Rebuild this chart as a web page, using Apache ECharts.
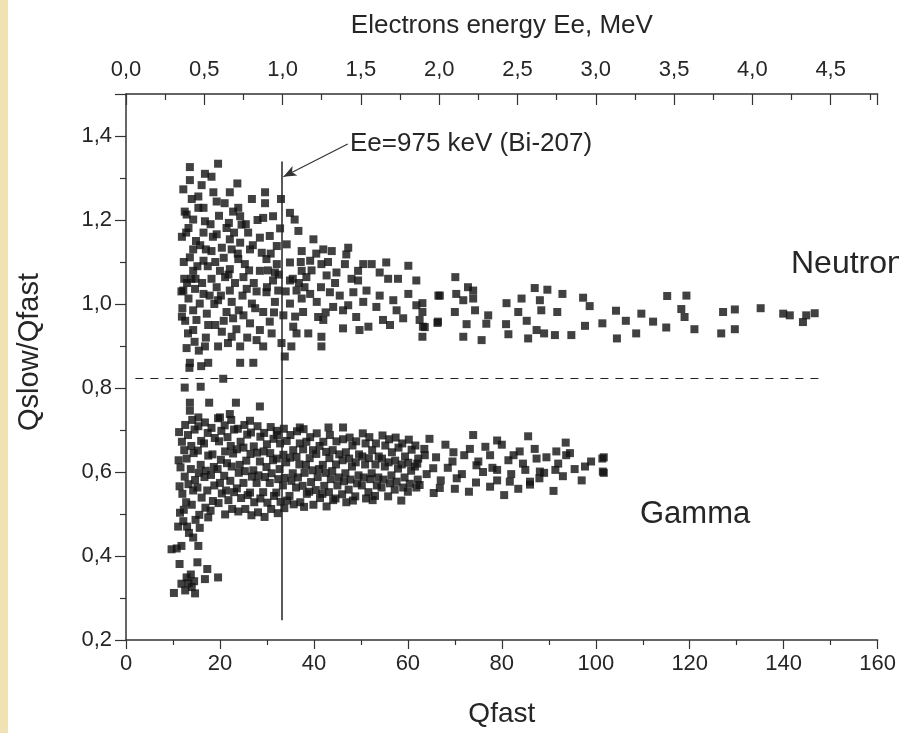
<!DOCTYPE html>
<html>
<head>
<meta charset="utf-8">
<script src="https://cdn.jsdelivr.net/npm/echarts@6/dist/echarts.min.js"></script>
<style>
html,body{margin:0;padding:0;background:#fff;}
#chart{width:899px;height:733px;}
</style>
</head>
<body>
<div id="chart"></div>
<script>
// Axis settings (tick labels)
const qfastTicks = [0, 20, 40, 60, 80, 100, 120, 140, 160];
const ratioTicks = [0.2, 0.4, 0.6, 0.8, 1.0, 1.2, 1.4];
const energyTicks = [0.0, 0.5, 1.0, 1.5, 2.0, 2.5, 3.0, 3.5, 4.0, 4.5];

// Neutron events [Qfast, Qslow/Qfast]
const neutronPoints = [
[19.6,1.334],[13.6,1.326],[18.2,1.303],[13.6,1.295],[16.1,1.283],[23.7,1.287],[12.2,1.273],[18.6,1.266],[22.1,1.266],[29.6,1.266],
[15.4,1.256],[29.6,1.240],[19.3,1.244],[15.4,1.229],[23.9,1.229],[16.5,1.229],[24.3,1.209],[12.9,1.213],[14.3,1.201],[16.8,1.197],
[21.9,1.193],[29.2,1.205],[31.3,1.209],[34.9,1.217],[35.9,1.201],[24.6,1.189],[21.4,1.181],[13.3,1.181],[16.5,1.170],[19.3,1.166],
[36.7,1.174],[28.5,1.158],[30.6,1.162],[22.1,1.154],[24.3,1.146],[39.9,1.154],[32.1,1.138],[34.2,1.142],[14.3,1.130],[18.2,1.126],
[20.4,1.134],[22.5,1.130],[26.4,1.130],[28.9,1.122],[37.4,1.126],[42.0,1.130],[43.8,1.126],[47.3,1.134],[46.9,1.118],[13.6,1.111],
[16.5,1.103],[23.9,1.107],[25.3,1.095],[29.9,1.107],[32.1,1.095],[34.9,1.099],[39.2,1.103],[41.6,1.095],[46.6,1.095],[50.5,1.095],
[52.3,1.095],[55.4,1.099],[60.1,1.091],[14.3,1.079],[20.0,1.079],[22.1,1.083],[28.5,1.079],[31.7,1.075],[37.4,1.079],[44.8,1.075],
[49.4,1.079],[54.0,1.075],[18.2,1.060],[21.1,1.064],[25.0,1.064],[31.3,1.056],[34.9,1.056],[38.4,1.064],[42.7,1.068],[49.4,1.056],
[55.8,1.060],[57.9,1.060],[61.8,1.056],[12.2,1.032],[14.7,1.036],[16.5,1.024],[19.3,1.040],[22.1,1.032],[25.7,1.036],[29.9,1.028],
[32.4,1.032],[36.3,1.032],[39.2,1.024],[43.4,1.028],[48.4,1.028],[51.2,1.032],[54.0,1.020],[56.9,1.009],[60.1,1.024],[66.8,1.020],
[13.3,1.013],[15.7,1.001],[19.6,1.009],[22.5,1.005],[26.8,1.001],[31.7,1.005],[34.9,1.001],[37.4,1.013],[40.6,1.005],[44.1,0.993],
[47.3,0.997],[50.5,1.005],[53.3,0.993],[57.6,0.985],[61.8,0.997],[14.3,0.985],[17.2,0.977],[21.4,0.981],[25.0,0.973],[29.2,0.981],
[37.7,0.981],[40.9,0.969],[46.2,0.985],[49.0,0.969],[54.7,0.962],[59.0,0.966],[62.5,0.962],[15.0,0.962],[22.8,0.966],[26.4,0.954],
[30.6,0.958],[33.5,0.973],[35.6,0.946],[42.0,0.962],[51.6,0.946],[56.2,0.950],[63.2,0.946],[66.4,0.958],[14.3,0.938],[17.5,0.950],
[20.4,0.934],[22.5,0.922],[28.5,0.938],[36.3,0.930],[38.8,0.930],[41.6,0.922],[46.2,0.942],[49.7,0.938],[12.9,0.895],[16.8,0.899],
[19.6,0.899],[21.7,0.907],[24.3,0.899],[27.8,0.914],[29.2,0.899],[33.1,0.907],[35.2,0.899],[41.6,0.899],[13.6,0.860],[17.5,0.860],
[24.3,0.860],[27.1,0.860],[33.8,0.875],[13.5,0.848],[15.5,0.889],[16.0,0.852],
[11.8,1.030],[12.0,0.990],[12.6,0.960],[13.0,1.050],[12.3,1.100],[11.9,1.160],[12.5,1.220],[13.2,0.930],[14.8,1.060],[15.8,1.140],
[17.4,1.090],[18.8,1.000],[20.8,1.110],[23.2,1.050],[26.0,1.170],[27.2,1.050],[30.2,1.080],[27.5,0.990],[32.8,1.180],[18.0,1.190],
[17.0,0.920],[19.0,0.950],[23.5,0.940],[25.8,0.920],
[12.8,1.170],[13.9,1.060],[14.9,1.150],[15.2,1.090],[16.2,1.050],[17.8,1.020],[18.5,1.160],[19.8,1.210],[20.2,1.020],[21.0,1.240],
[21.8,1.070],[23.0,1.170],[23.8,1.120],[24.8,1.020],[25.5,1.190],[26.2,1.080],[27.0,1.140],[27.8,1.030],[28.0,1.200],[30.0,1.040],
[30.8,1.120],[31.5,0.980],[32.5,1.070],[33.0,1.250],[34.0,1.030],[35.5,1.060],[36.0,0.970],[37.2,1.100],[38.0,1.040],[39.5,1.080],
[40.5,1.120],[41.5,1.040],[43.0,1.100],[44.5,1.050],[45.5,1.020],[48.0,1.060],[14.0,1.250],[16.8,1.310],[22.8,1.220],[26.8,1.250],
[19.0,1.100],[17.0,1.130],[12.4,1.060],[11.9,0.970],[14.6,0.910],[20.8,0.960],[24.0,0.985],[31.0,0.930],[36.8,1.050],[42.5,0.980],
[70.1,1.064],[72.8,1.040],[73.9,1.032],[66.5,1.020],[70.3,1.024],[71.8,1.009],[73.9,1.013],[70.0,0.981],[74.3,0.985],[63.1,1.002],
[63.1,0.981],[66.3,0.955],[72.5,0.952],[77.1,0.973],[76.7,0.953],[63.6,0.945],[63.1,0.922],[71.8,0.922],[75.7,0.914],[81.0,1.002],
[84.2,1.013],[83.5,0.981],[85.3,0.960],[80.9,0.952],[81.4,0.928],[87.0,1.038],[89.7,1.034],[92.9,1.024],[88.1,1.009],[88.4,0.985],
[87.4,0.938],[89.0,0.930],[91.3,0.926],[85.6,0.918],[91.8,0.981],[94.8,0.926],[97.3,1.015],[98.7,0.995],[97.7,0.948],[101.4,0.954],
[104.3,0.984],[106.4,0.960],[104.5,0.918],[108.6,0.930],[109.7,0.977],[112.2,0.958],[115.0,0.944],[115.2,1.019],[119.3,1.020],[118.2,0.988],
[118.9,0.969],[121.0,0.940],[127.1,0.981],[129.6,0.987],[126.7,0.930],[129.6,0.940],[135.1,0.990],[139.9,0.977],[141.3,0.973],[144.1,0.957],
[144.8,0.973],[146.6,0.978]
];

// Gamma events [Qfast, Qslow/Qfast]
const gammaPoints = [
[20.7,0.822],[12.5,0.801],[15.9,0.803],[17.7,0.765],[23.4,0.765],[28.5,0.756],[13.6,0.765],[13.6,0.746],[15.4,0.730],[20.0,0.730],
[22.1,0.738],[26.4,0.722],[37.0,0.706],[43.1,0.706],[46.2,0.706],[32.1,0.698],
[12.2,0.483],[15.7,0.467],[14.3,0.444],[11.8,0.424],[9.7,0.416],[15.4,0.424],[11.4,0.381],[15.2,0.385],[17.3,0.369],[19.6,0.349],
[16.8,0.345],[12.9,0.349],[11.8,0.334],[14.0,0.326],[10.2,0.312],[14.7,0.311],[12.6,0.318],[13.3,0.335],[13.8,0.356],[14.5,0.340],
[10.8,0.418],[13.0,0.470],
[11.3,0.695],[11.9,0.672],[11.2,0.628],[11.6,0.611],[11.4,0.566],[12.0,0.548],[11.5,0.503],[11.1,0.470],
[12.6,0.712],[13.2,0.688],[12.4,0.652],[12.9,0.632],[12.5,0.589],[13.3,0.571],[12.8,0.528],[12.3,0.510],[13.4,0.455],
[14.1,0.724],[14.6,0.701],[13.9,0.662],[14.4,0.645],[13.8,0.607],[14.7,0.581],[14.3,0.556],[14.0,0.522],[14.8,0.486],
[15.4,0.709],[16.0,0.674],[15.3,0.651],[15.9,0.617],[15.5,0.598],[15.2,0.563],[16.1,0.539],[15.6,0.498],
[16.8,0.718],[17.4,0.693],[16.6,0.668],[17.5,0.639],[17.0,0.603],[16.7,0.588],[17.3,0.556],[16.9,0.515],[17.5,0.492],
[18.2,0.705],[18.9,0.681],[18.4,0.642],[18.7,0.612],[18.1,0.593],[18.8,0.568],[18.5,0.531],[18.0,0.508],
[19.6,0.728],[20.3,0.698],[19.8,0.673],[20.2,0.629],[19.5,0.607],[20.0,0.574],[20.4,0.549],[19.7,0.526],
[21.0,0.711],[21.6,0.683],[21.1,0.649],[21.5,0.621],[20.9,0.591],[21.3,0.556],[21.8,0.533],[21.1,0.499],
[22.4,0.724],[23.0,0.701],[22.3,0.662],[22.8,0.644],[22.5,0.613],[22.2,0.579],[23.0,0.552],[22.6,0.512],
[23.8,0.703],[24.4,0.672],[23.6,0.654],[24.2,0.617],[24.0,0.598],[23.6,0.561],[24.5,0.538],[23.9,0.506],
[25.2,0.712],[25.8,0.689],[25.0,0.658],[25.6,0.627],[25.3,0.602],[25.0,0.574],[25.9,0.545],[25.4,0.512],
[26.6,0.694],[27.2,0.661],[26.5,0.643],[27.1,0.604],[26.8,0.589],[26.4,0.551],[27.3,0.528],[26.7,0.497],
[28.0,0.709],[28.6,0.684],[27.9,0.646],[28.5,0.625],[28.2,0.592],[27.8,0.574],[28.6,0.537],[28.1,0.504],
[29.4,0.693],[30.0,0.666],[29.3,0.649],[29.9,0.612],[29.6,0.588],[29.2,0.552],[30.1,0.527],[29.5,0.493],
[30.8,0.707],[31.4,0.679],[30.7,0.645],[31.3,0.628],[31.0,0.597],[30.6,0.574],[31.5,0.543],[30.9,0.512],
[32.2,0.688],[32.8,0.668],[32.1,0.632],[32.7,0.607],[32.4,0.583],[32.0,0.551],[32.9,0.529],[32.3,0.502],
[33.6,0.703],[34.2,0.674],[33.5,0.641],[34.1,0.623],[33.8,0.586],[33.4,0.568],[34.3,0.532],[33.7,0.514],
[35.0,0.688],[35.6,0.652],[34.9,0.634],[35.5,0.597],[35.2,0.579],[34.8,0.543],[35.7,0.523],
[36.4,0.697],[37.0,0.668],[36.3,0.636],[36.9,0.618],[36.6,0.587],[36.2,0.563],[37.1,0.528],
[37.8,0.702],[38.4,0.672],[37.7,0.654],[38.3,0.617],[38.0,0.598],[37.6,0.567],[38.5,0.548],[37.9,0.517],
[39.2,0.683],[39.8,0.652],[39.1,0.633],[39.7,0.604],[39.4,0.576],[39.0,0.553],[39.9,0.522],
[40.6,0.692],[41.2,0.662],[40.5,0.643],[41.1,0.607],[40.8,0.588],[40.4,0.557],[41.3,0.538],
[42.0,0.672],[42.6,0.648],[41.9,0.617],[42.5,0.598],[42.2,0.567],[41.8,0.548],[42.7,0.518],
[43.4,0.688],[44.0,0.652],[43.3,0.633],[43.9,0.602],[43.6,0.583],[43.2,0.552],[44.1,0.533],
[44.8,0.673],[45.4,0.642],[44.7,0.618],[45.3,0.587],[45.0,0.568],[44.6,0.537],
[46.2,0.678],[46.8,0.647],[46.1,0.628],[46.7,0.597],[46.4,0.578],[46.0,0.547],[46.9,0.528],
[47.6,0.682],[48.2,0.663],[47.5,0.632],[48.1,0.613],[47.8,0.582],[47.4,0.558],[48.3,0.532],
[49.0,0.673],[49.6,0.642],[48.9,0.623],[49.5,0.592],[49.2,0.573],[48.8,0.542],
[50.4,0.692],[51.0,0.668],[50.3,0.637],[50.9,0.618],[50.6,0.587],[50.2,0.568],[51.1,0.537],
[51.8,0.683],[52.4,0.652],[51.7,0.633],[52.3,0.597],[52.0,0.583],[51.6,0.552],[52.5,0.533],
[53.2,0.668],[53.8,0.637],[53.1,0.618],[53.7,0.587],[53.4,0.568],[53.0,0.543],
[54.6,0.687],[55.2,0.663],[54.5,0.632],[55.1,0.613],[54.8,0.582],[54.4,0.563],
[56.0,0.678],[56.6,0.647],[55.9,0.623],[56.5,0.592],[56.2,0.573],[55.8,0.542],
[57.4,0.682],[58.0,0.658],[57.3,0.627],[57.9,0.608],[57.6,0.577],[57.2,0.558],
[58.8,0.668],[59.4,0.637],[58.7,0.618],[59.3,0.587],[59.0,0.563],[58.6,0.532],
[60.2,0.677],[60.8,0.653],[60.1,0.622],[60.7,0.603],[60.4,0.572],[60.0,0.553],
[61.6,0.663],[62.2,0.632],[61.5,0.613],[62.1,0.582],[61.8,0.563],
[64.6,0.679],[73.9,0.688],[79.0,0.675],[85.6,0.685],[93.6,0.670],[101.4,0.632],[101.5,0.601],[97.7,0.613],[91.4,0.605],[91.6,0.649],
[93.7,0.640],[83.8,0.649],[87.4,0.632],[88.1,0.601],[81.4,0.628],[77.5,0.640],[79.0,0.605],[73.2,0.655],[69.7,0.647],[74.6,0.616],
[70.4,0.585],[81.7,0.577],[86.0,0.577],[63.6,0.640],[65.4,0.609],[66.8,0.562],
[62.5,0.569],[64.0,0.595],[65.5,0.550],[67.0,0.580],[68.5,0.610],[70.0,0.560],[71.5,0.595],[73.0,0.553],[74.5,0.575],[76.0,0.600],
[77.5,0.565],[79.0,0.580],[80.5,0.545],[82.0,0.595],[83.5,0.560],[85.0,0.605],[86.0,0.570],[88.0,0.585],[89.0,0.598],[91.0,0.555],
[93.0,0.590],[95.5,0.607],[97.0,0.580],[99.0,0.625],[101.7,0.635],[101.7,0.598],[62.0,0.620],[63.5,0.655],[66.0,0.635],[68.0,0.665],
[69.5,0.625],[72.0,0.640],[75.0,0.625],[76.5,0.660],[78.0,0.610],[80.0,0.665],[82.5,0.640],[84.5,0.620],[87.0,0.655],[89.5,0.635],
[92.0,0.620],[94.5,0.645]
];

// Reference lines (data coordinates)
const bi207Q = 33.2;          // Ee = 975 keV
const bi207Span = [0.247, 1.339];
const separatorV = 0.824;
const separatorSpan = [2, 148.7];
const arrowFrom = [47.2, 1.381];
const arrowTo = [33.5, 1.303];

const FONT = "'Liberation Sans', Arial, sans-serif";
const TXT = '#262626';
const AX = '#333333';
const comma1 = v => v.toFixed(1).replace('.', ',');

const chart = echarts.init(document.getElementById('chart'), null, {renderer: 'canvas'});

chart.setOption({
  animation: false,
  backgroundColor: '#ffffff',
  grid: {left: 126, right: 21, top: 94, bottom: 86, containLabel: false},
  xAxis: [
    {
      type: 'value', position: 'bottom', min: qfastTicks[0], max: qfastTicks[qfastTicks.length - 1], interval: 20,
      name: 'Qfast', nameLocation: 'middle', nameGap: 60,
      nameTextStyle: {fontFamily: FONT, fontSize: 28, color: TXT},
      axisLine: {onZero: false, lineStyle: {color: AX, width: 1.5}},
      axisTick: {show: true, inside: false, length: 9, lineStyle: {color: AX, width: 1.2}},
      minorTick: {show: true, splitNumber: 2, length: 5, lineStyle: {color: AX, width: 1.2}},
      axisLabel: {fontFamily: FONT, fontSize: 22, color: TXT, margin: 13},
      splitLine: {show: false}
    },
    {
      type: 'value', position: 'top', min: energyTicks[0], max: 4.8, interval: 0.5,
      name: 'Electrons energy Ee, MeV', nameLocation: 'middle', nameGap: 55,
      nameTextStyle: {fontFamily: FONT, fontSize: 26, color: TXT},
      axisLine: {onZero: false, lineStyle: {color: AX, width: 1.5}},
      axisTick: {show: true, inside: true, length: 11, lineStyle: {color: AX, width: 1.2}},
      minorTick: {show: true, splitNumber: 2, length: 6, lineStyle: {color: AX, width: 1.2}},
      axisLabel: {fontFamily: FONT, fontSize: 22, color: TXT, margin: 13, showMaxLabel: false,
                  formatter: v => comma1(v)},
      splitLine: {show: false}
    }
  ],
  yAxis: [
    {
      type: 'value', position: 'left', min: ratioTicks[0], max: 1.5, interval: 0.2,
      name: 'Qslow/Qfast', nameLocation: 'middle', nameGap: 82, nameRotate: 90,
      nameTextStyle: {fontFamily: FONT, fontSize: 29, color: TXT, padding: [0, 0, 0, 30]},
      axisLine: {onZero: false, lineStyle: {color: AX, width: 1.5}},
      axisTick: {show: true, inside: false, length: 11, lineStyle: {color: AX, width: 1.2}},
      minorTick: {show: true, splitNumber: 2, length: 6, lineStyle: {color: AX, width: 1.2}},
      axisLabel: {fontFamily: FONT, fontSize: 22, color: TXT, margin: 14, showMaxLabel: false,
                  formatter: v => comma1(v)},
      splitLine: {show: false}
    }
  ],
  series: [
    {
      name: 'Neutron', type: 'scatter', xAxisIndex: 0, yAxisIndex: 0,
      symbol: 'rect', symbolSize: 8, itemStyle: {color: '#121212'},
      data: neutronPoints, silent: true
    },
    {
      name: 'Gamma', type: 'scatter', xAxisIndex: 0, yAxisIndex: 0,
      symbol: 'rect', symbolSize: 8, itemStyle: {color: '#121212'},
      data: gammaPoints, silent: true
    },
    {
      name: 'lines', type: 'scatter', xAxisIndex: 0, yAxisIndex: 0, data: [], silent: true,
      markLine: {
        silent: true, animation: false, symbol: ['none', 'none'], label: {show: false},
        data: [
          [{coord: [bi207Q, bi207Span[0]], lineStyle: {color: '#222', width: 1.5, type: 'solid'}},
           {coord: [bi207Q, bi207Span[1]]}],
          [{coord: [separatorSpan[0], separatorV], lineStyle: {color: '#222', width: 1.2, type: [8, 7]}},
           {coord: [separatorSpan[1], separatorV]}],
          [{coord: arrowFrom, symbol: 'none', lineStyle: {color: '#333', width: 1.2, type: 'solid'}},
           {coord: arrowTo, symbol: 'arrow', symbolSize: [8, 13]}]
        ]
      }
    }
  ],
  graphic: [
    {type: 'rect', left: 0, top: 0, shape: {width: 8, height: 733}, style: {fill: '#efe3b3'}, silent: true},
    {type: 'text', x: 350, y: 144, style: {text: 'Ee=975 keV (Bi-207)', font: "26px 'Liberation Sans', Arial, sans-serif", fill: TXT, verticalAlign: 'middle', align: 'left'}},
    {type: 'text', x: 791, y: 264, style: {text: 'Neutrons', font: "32px 'Liberation Sans', Arial, sans-serif", fill: TXT, verticalAlign: 'middle', align: 'left'}},
    {type: 'text', x: 640, y: 514, style: {text: 'Gamma', font: "31px 'Liberation Sans', Arial, sans-serif", fill: TXT, verticalAlign: 'middle', align: 'left'}}
  ]
});
</script>
</body>
</html>
